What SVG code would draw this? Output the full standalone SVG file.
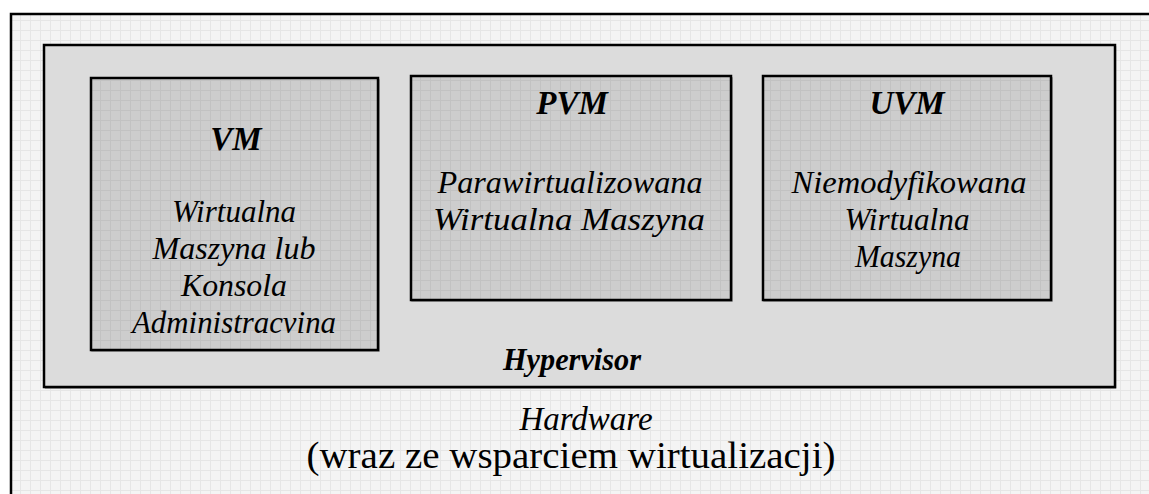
<svg xmlns="http://www.w3.org/2000/svg" width="1149" height="494" viewBox="0 0 1149 494">
  <style>
    .frame { stroke: #000; stroke-width: 2.5; }
    .shadow { fill: none; stroke: #8a8a8a; stroke-width: 1.5; }
    .t { font-family: 'Liberation Serif', Tinos, 'Times New Roman', Times, serif; font-size: 32px; fill: #000; text-anchor: middle; }
    .it { font-style: italic; }
    .bi { font-style: italic; font-weight: bold; font-size: 33px; }
  </style>
  <defs>
    <pattern id="gridLight" width="10" height="10" patternUnits="userSpaceOnUse" x="0" y="0">
      <rect width="10" height="10" fill="#f4f4f4"/>
      <path d="M0 0.5H10M0.5 0V10" stroke="#e6e6e6" stroke-width="1"/>
    </pattern>
    <pattern id="gridDark" width="10" height="10" patternUnits="userSpaceOnUse" x="0" y="0">
      <rect width="10" height="10" fill="#cdcdcd"/>
      <path d="M0 0.5H10M0.5 0V10" stroke="#c2c2c2" stroke-width="1"/>
    </pattern>
  </defs>

  <rect width="1149" height="494" fill="#ffffff"/>

  <!-- Hardware layer -->
  <g id="hardware">
    <rect x="11" y="14" width="1150" height="490" fill="url(#gridLight)" class="frame"/>
    <text class="t it" x="586" y="430" style="font-size:33px">Hardware</text>
    <text class="t" x="571" y="468" style="font-size:37px" textLength="529" lengthAdjust="spacingAndGlyphs">(wraz ze wsparciem wirtualizacji)</text>
  </g>

  <!-- Hypervisor layer -->
  <g id="hypervisor">
    <rect x="45.5" y="47" width="1070" height="341" class="shadow"/>
    <rect x="44" y="45" width="1071" height="342" fill="#dcdcdc" class="frame"/>
    <text class="t bi" x="572" y="370" style="font-size:32px" textLength="138" lengthAdjust="spacingAndGlyphs">Hypervisor</text>
  </g>

  <!-- VM -->
  <g id="vm">
    <rect x="92" y="80" width="287" height="271" class="shadow"/>
    <rect x="91" y="78" width="287" height="272" fill="url(#gridDark)" class="frame"/>
    <text class="t bi" x="236" y="150">VM</text>
    <text class="t it" x="234" y="222" textLength="124" lengthAdjust="spacingAndGlyphs">Wirtualna</text>
    <text class="t it" x="234" y="259" textLength="163" lengthAdjust="spacingAndGlyphs">Maszyna lub</text>
    <text class="t it" x="234" y="296" textLength="106" lengthAdjust="spacingAndGlyphs">Konsola</text>
    <text class="t it" x="234" y="333" textLength="204" lengthAdjust="spacingAndGlyphs">Administracvina</text>
  </g>

  <!-- PVM -->
  <g id="pvm">
    <rect x="412" y="78" width="320" height="223" class="shadow"/>
    <rect x="411" y="76" width="320" height="224" fill="url(#gridDark)" class="frame"/>
    <text class="t bi" x="572" y="114">PVM</text>
    <text class="t it" x="570" y="193" textLength="265" lengthAdjust="spacingAndGlyphs">Parawirtualizowana</text>
    <text class="t it" x="569" y="230" textLength="272" lengthAdjust="spacingAndGlyphs">Wirtualna Maszyna</text>
  </g>

  <!-- UVM -->
  <g id="uvm">
    <rect x="764" y="78" width="288" height="223" class="shadow"/>
    <rect x="763" y="76" width="288" height="224" fill="url(#gridDark)" class="frame"/>
    <text class="t bi" x="907" y="114">UVM</text>
    <text class="t it" x="909" y="193" textLength="235" lengthAdjust="spacingAndGlyphs">Niemodyfikowana</text>
    <text class="t it" x="907" y="230" textLength="125" lengthAdjust="spacingAndGlyphs">Wirtualna</text>
    <text class="t it" x="908" y="267" textLength="106" lengthAdjust="spacingAndGlyphs">Maszyna</text>
  </g>

  <g id="connectors"/>
</svg>
